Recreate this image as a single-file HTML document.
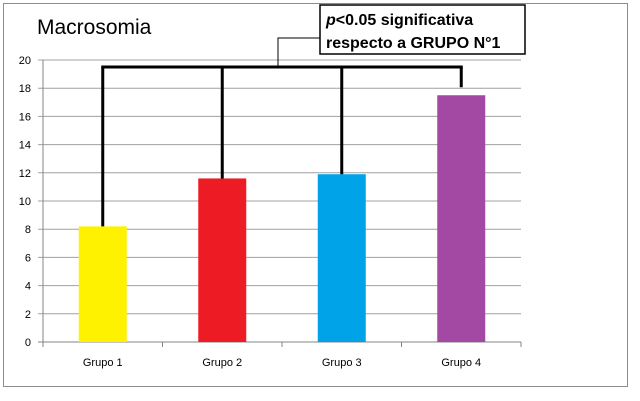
<!DOCTYPE html>
<html><head><meta charset="utf-8"><style>
body{margin:0;background:#fff;}
svg{display:block;font-family:"Liberation Sans",sans-serif;}
</style></head><body>
<svg width="640" height="401">
<rect x="3.5" y="3.5" width="624" height="383" fill="#fff" stroke="#8c8c8c"/>
<text x="37" y="34" font-size="21" fill="#000">Macrosomia</text>
<g id="grid"></g><g id="bars"></g><g id="axes"></g>
<g id="bracket" stroke="#000" fill="none"></g>
<rect x="320" y="5" width="205" height="49" fill="#fff" stroke="#000" stroke-width="1.5"/>
<text x="326" y="25" font-size="16" font-weight="bold"><tspan font-style="italic">p</tspan>&lt;0.05 significativa</text>
<text x="326" y="48" font-size="16" font-weight="bold">respecto a GRUPO N°1</text>
<script>
const categories=["Grupo 1","Grupo 2","Grupo 3","Grupo 4"];
const values=[8.2,11.6,11.9,17.5];
const colors=["#fff200","#ed1c24","#00a2e8","#a349a4"];
const yTicks=[0,2,4,6,8,10,12,14,16,18,20];
const NS="http://www.w3.org/2000/svg";
const X0=43,X1=521,Y0=342,Y1=60,YMAX=20;
const y=v=>Y0-(v/YMAX)*(Y0-Y1);
const bw=(X1-X0)/categories.length;
const xc=i=>X0+bw*(i+0.5);
function mk(t,a,p){const e=document.createElementNS(NS,t);for(const k in a)e.setAttribute(k,a[k]);p.appendChild(e);return e;}
const grid=document.getElementById('grid'),bars=document.getElementById('bars'),axes=document.getElementById('axes'),br=document.getElementById('bracket');
yTicks.forEach(t=>{
 const l=mk('line',{x1:X0-5,x2:X1,y1:y(t),y2:y(t),stroke:t===0?'#868686':'#a0a0a0','stroke-width':1},grid);
 
 
 const tx=mk('text',{x:X0-12,y:y(t)+4,'font-size':11,'text-anchor':'end',fill:'#000'},axes);
 tx.textContent=t;
 
 
});
const ax=mk('line',{x1:X0,x2:X0,y1:Y1,y2:Y0,stroke:'#868686'},axes);


for(let i=0;i<=categories.length;i++){const tk=mk('line',{x1:X0+bw*i,x2:X0+bw*i,y1:Y0,y2:Y0+5,stroke:'#868686'},axes);
 
 }
const bwid=48;
categories.forEach((c,i)=>{
 const r=mk('rect',{x:xc(i)-bwid/2,y:y(values[i]),width:bwid,height:Y0-y(values[i]),fill:colors[i]},bars);
 
 
 const t=mk('text',{x:xc(i),y:Y0+24,'font-size':11,'text-anchor':'middle'},axes);
 t.textContent=c;
 
 
});
// significance bracket
const by=67;
const bx=categories.map((c,i)=>xc(i));
const h=mk('line',{x1:bx[0]-1.5,x2:bx[3]+1.5,y1:by,y2:by,'stroke-width':3},br);


bx.forEach((x,i)=>{const l=mk('line',{x1:x,x2:x,y1:by,y2:y(values[i])-(i===3?8:0),'stroke-width':3},br);
 
 });
const c=mk('polyline',{points:'278,'+by+' 278,38 320,38','stroke-width':1},br);


</script>
</svg>
</body></html>
